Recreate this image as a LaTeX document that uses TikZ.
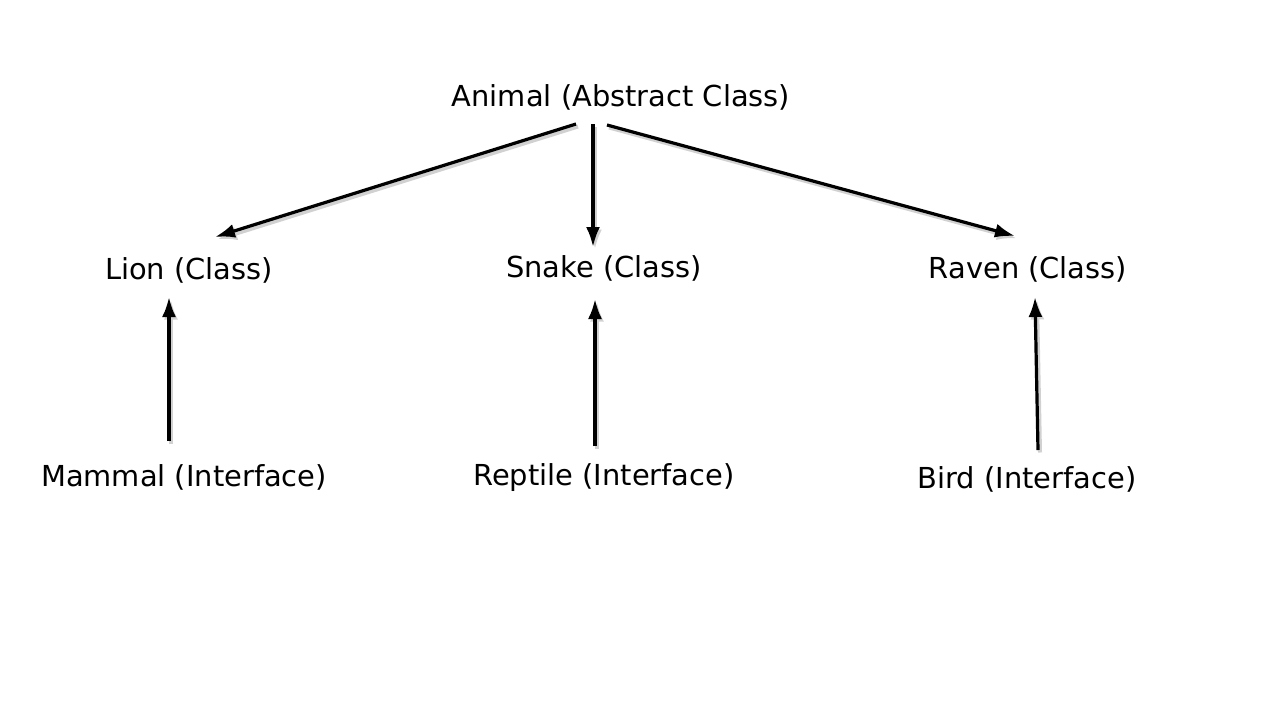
\documentclass[tikz,border=0pt]{standalone}
\usepackage{fontspec}
\setmainfont{DejaVu Sans}
\usetikzlibrary{arrows.meta}
\begin{document}
\begin{tikzpicture}[x=1pt,y=-1pt,
  lbl/.style={inner sep=0pt, font=\fontsize{28.9}{34}\selectfont},
  headtip/.style={-{Latex[length=20pt,width=14pt]}},
  arr/.style={line width=3.2pt, headtip,
    preaction={draw=black!18, line width=4pt, headtip, transform canvas={xshift=2pt,yshift=-2.5pt}}}]
\useasboundingbox[fill=white] (0,0) rectangle (1280,720);
\node[lbl] (animal) at (621,97) {Animal (Abstract Class)};
\node[lbl] (lion) at (189,270) {Lion (Class)};
\node[lbl] (snake) at (604,268) {Snake (Class)};
\node[lbl] (raven) at (1028,269) {Raven (Class)};
\node[lbl] (mammal) at (184,477) {Mammal (Interface)};
\node[lbl] (reptile) at (604,478) {Reptile (Interface)};
\node[lbl] (bird) at (1027,479) {Bird (Interface)};
\draw[arr] ([shift={(-45,27)}]animal.center) -- ([shift={(26,-33)}]lion.center);
\draw[arr] ([shift={(-28,27)}]animal.center) -- ([shift={(-11,-21)}]snake.center);
\draw[arr] ([shift={(-14,28)}]animal.center) -- ([shift={(-13,-33)}]raven.center);
\draw[arr] ([shift={(-15,-36)}]mammal.center) -- ([shift={(-20,27)}]lion.center);
\draw[arr] ([shift={(-9,-32)}]reptile.center) -- ([shift={(-9,31)}]snake.center);
\draw[arr] ([shift={(11,-29)}]bird.center) -- ([shift={(7,28)}]raven.center);
\end{tikzpicture}
\end{document}
